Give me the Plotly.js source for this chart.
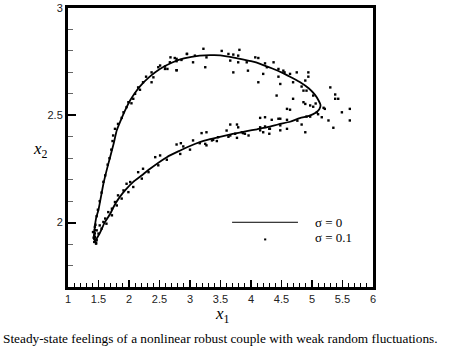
<!DOCTYPE html>
<html>
<head>
<meta charset="utf-8">
<script src="https://cdn.plot.ly/plotly-3.0.1.min.js"></script>
<style>html,body{margin:0;padding:0;background:#fff;}#chart{width:466px;height:353px;}</style>
</head>
<body>
<div id="chart"></div>
<script>
// deterministic trajectory (sigma = 0)
const curveX = [1.45,1.43,1.44,1.46,1.50,1.54,1.58,1.63,1.69,1.75,1.80,1.87,1.93,2.02,2.10,2.18,2.34,2.50,2.70,2.90,3.16,3.40,3.60,3.82,4.00,4.15,4.35,4.50,4.64,4.80,4.95,5.05,5.11,5.14,5.12,5.06,4.95,4.80,4.64,4.45,4.31,4.10,3.93,3.70,3.49,3.30,3.16,3.00,2.84,2.62,2.34,2.20,2.07,1.95,1.85,1.76,1.69,1.60,1.52,1.47,1.45];
const curveY = [1.91,1.94,1.98,2.02,2.06,2.12,2.18,2.24,2.305,2.37,2.43,2.48,2.52,2.57,2.605,2.635,2.68,2.715,2.745,2.765,2.778,2.78,2.775,2.763,2.752,2.74,2.718,2.70,2.68,2.655,2.625,2.595,2.568,2.548,2.528,2.512,2.497,2.487,2.47,2.458,2.447,2.435,2.426,2.413,2.40,2.387,2.375,2.357,2.336,2.305,2.25,2.218,2.19,2.155,2.12,2.08,2.04,2.00,1.95,1.925,1.91];

// noisy trajectory samples (sigma = 0.1)
const scatX = [3.22,3.52,3.81,2.95,3.08,3.27,3.63,3.71,3.79,2.75,2.86,4.07,4.12,2.67,2.78,3.05,3.66,3.79,3.93,4.23,4.37,2.48,2.59,2.78,3.25,4.26,4.45,4.53,3.95,3.71,4.64,4.75,4.94,2.40,4.20,4.45,4.94,4.12,4.69,4.89,4.48,4.83,5.30,4.86,4.91,5.38,4.42,5.02,5.38,5.43,4.69,4.86,4.89,4.97,4.59,4.64,5.19,5.21,5.49,5.62,5.62,5.08,4.91,4.97,4.15,4.23,4.45,4.59,5.16,5.27,5.35,3.66,3.77,3.79,4.15,4.23,4.31,4.48,4.59,4.83,4.89,3.19,3.27,3.60,3.66,3.74,3.77,3.85,3.90,3.96,3.46,3.36,3.25,3.05,2.89,2.78,
  2.68,2.78,2.95,2.51,2.59,2.63,2.78,2.37,2.28,2.37,2.23,2.15,2.18,2.10,2.07,1.99,2.04,1.96,1.91,1.88,1.82,1.77,1.74,
  2.85,2.84,2.51,2.43,2.62,2.48,2.23,2.15,2.32,2.21,2.02,1.96,2.07,1.91,1.99,1.82,1.88,1.77,1.80,1.72,1.66,1.72,1.61,1.58,1.63,1.52,1.55,1.47,1.50,1.44,1.47,1.43,1.46,1.44,1.41,1.43,
  3.00,3.16,3.27,3.38,3.44,3.63,3.87,4.15,4.20,4.30,4.30,4.34,4.48,4.48,5.06,5.10,5.02,4.76,4.55,
  1.43,1.44,1.45,1.47,1.49,1.52,1.55,1.58,1.61,1.65,1.68,1.71,1.73,1.42,1.44,1.46];
const scatY = [2.81,2.80,2.805,2.786,2.778,2.77,2.786,2.783,2.778,2.767,2.758,2.77,2.767,2.747,2.752,2.747,2.755,2.747,2.747,2.742,2.747,2.724,2.716,2.71,2.724,2.724,2.716,2.708,2.708,2.70,2.693,2.70,2.70,2.677,2.693,2.68,2.68,2.654,2.654,2.662,2.646,2.634,2.63,2.615,2.615,2.597,2.592,2.592,2.577,2.577,2.577,2.561,2.553,2.546,2.53,2.526,2.535,2.53,2.514,2.53,2.476,2.514,2.494,2.494,2.488,2.491,2.484,2.479,2.491,2.476,2.442,2.457,2.457,2.444,2.444,2.448,2.437,2.453,2.437,2.457,2.421,2.417,2.421,2.429,2.406,2.414,2.395,2.421,2.414,2.406,2.398,2.383,2.367,2.383,2.355,2.364,
  2.77,2.763,2.786,2.732,2.727,2.716,2.71,2.70,2.68,2.654,2.654,2.63,2.619,2.60,2.577,2.561,2.556,2.538,2.514,2.488,2.46,2.437,2.406,
  2.37,2.32,2.313,2.305,2.293,2.267,2.251,2.235,2.235,2.205,2.189,2.181,2.166,2.15,2.142,2.127,2.112,2.096,2.08,2.065,2.049,2.034,2.019,2.003,1.995,1.987,1.972,1.964,1.949,1.933,1.918,1.91,1.902,1.98,1.956,1.94,
  2.34,2.37,2.36,2.386,2.38,2.40,2.417,2.43,2.421,2.437,2.414,2.479,2.484,2.43,2.555,2.505,2.54,2.475,2.70,
  1.925,1.95,1.99,2.03,2.06,2.10,2.14,2.19,2.22,2.27,2.30,2.34,2.38,1.93,1.965,1.905];

const xTickVals = [1,1.5,2,2.5,3,3.5,4,4.5,5,5.5,6];
const xTickText = ['1','1.5','2','2.5','3','3.5','4','4.5','5','5.5','6'];
const yTickVals = [2,2.5,3];
const yTickText = ['2','2.5','3'];
const legendLabels = ['σ = 0','σ = 0.1'];
const captionText = 'Steady-state feelings of a nonlinear robust couple with weak random fluctuations.';

const traces = [
  {x: curveX, y: curveY, mode: 'lines', type: 'scatter', line: {color: '#000', width: 1.8, shape: 'spline', smoothing: 0.6}, hoverinfo: 'skip'},
  {x: scatX, y: scatY, mode: 'markers', type: 'scatter', marker: {symbol: 'square', size: 2.4, color: '#000'}, hoverinfo: 'skip'}
];

const tickFont = {family: 'Liberation Sans, Arial, sans-serif', size: 11, color: '#222'};
const serif = 'Liberation Serif, Times New Roman, serif';

const layout = {
  width: 466, height: 353,
  margin: {l: 68, r: 93, t: 8, b: 66},
  paper_bgcolor: '#fff', plot_bgcolor: '#fff',
  showlegend: false,
  xaxis: {
    range: [1, 6], tickvals: xTickVals, ticktext: xTickText,
    ticks: 'inside', ticklen: 7, tickwidth: 1.5, tickcolor: '#000',
    minor: {dtick: 0.1, tick0: 1, ticks: 'inside', ticklen: 4, tickwidth: 1, tickcolor: '#000', showgrid: false},
    showline: true, linewidth: 3, linecolor: '#000', mirror: true,
    showgrid: false, zeroline: false, tickfont: tickFont
  },
  yaxis: {
    range: [1.7, 3], tickvals: yTickVals, ticktext: yTickText,
    ticks: 'inside', ticklen: 8, tickwidth: 2, tickcolor: '#000',
    minor: {dtick: 0.1, tick0: 1.7, ticks: 'inside', ticklen: 5, tickwidth: 1, tickcolor: '#666', showgrid: false},
    showline: true, linewidth: 3, linecolor: '#000', mirror: true,
    showgrid: false, zeroline: false, tickfont: tickFont
  },
  shapes: [
    {type: 'line', xref: 'paper', yref: 'paper', x0: 0.538, x1: 0.754, y0: 0.232, y1: 0.232, line: {color: '#000', width: 1}},
    {type: 'rect', xref: 'paper', yref: 'paper', x0: 0.643, x1: 0.650, y0: 0.167, y1: 0.174, fillcolor: '#000', line: {width: 0}}
  ],
  annotations: [
    {xref: 'paper', yref: 'paper', x: 0.803, y: 0.232, xanchor: 'left', yanchor: 'middle', text: legendLabels[0], showarrow: false, font: {family: serif, size: 13, color: '#000'}},
    {xref: 'paper', yref: 'paper', x: 0.803, y: 0.178, xanchor: 'left', yanchor: 'middle', text: legendLabels[1], showarrow: false, font: {family: serif, size: 13, color: '#000'}},
    {xref: 'paper', yref: 'paper', x: 0.505, y: -0.1, xanchor: 'center', yanchor: 'middle', text: '<i>x</i><sub>1</sub>', showarrow: false, font: {family: serif, size: 17, color: '#000'}},
    {xref: 'paper', yref: 'paper', x: -0.09, y: 0.49, xanchor: 'center', yanchor: 'middle', text: '<i>x</i><sub>2</sub>', showarrow: false, font: {family: serif, size: 17, color: '#000'}},
    {xref: 'paper', yref: 'paper', x: 0.5, y: -0.185, xanchor: 'center', yanchor: 'middle', xshift: 0, text: captionText, showarrow: false, font: {family: serif, size: 13.3, color: '#000'}}
  ]
};

Plotly.newPlot('chart', traces, layout, {staticPlot: true, displayModeBar: false});
</script>
</body>
</html>
